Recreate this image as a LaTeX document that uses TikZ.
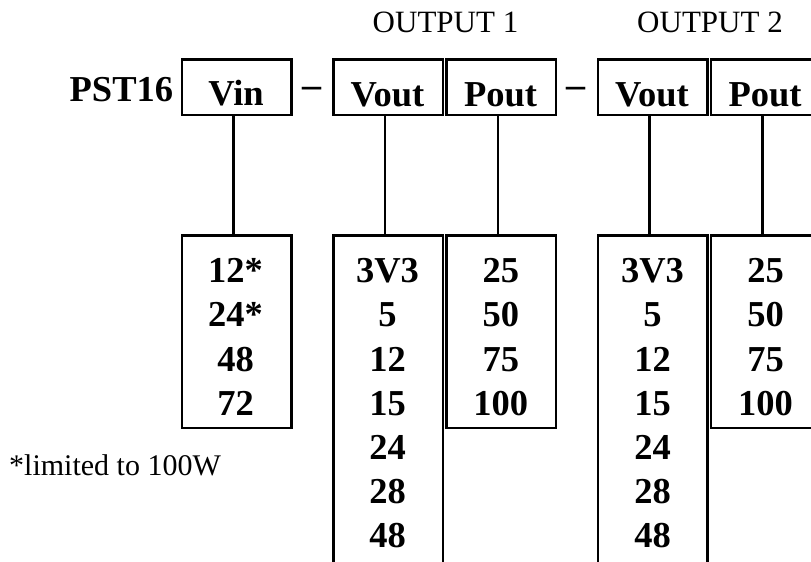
\documentclass[tikz,border=0pt]{standalone}
\usepackage{fontspec}
\setmainfont{Liberation Serif}
\begin{document}
\begin{tikzpicture}[x=1pt,y=-1pt,
  box/.style={draw, line width=2.4pt, inner sep=0pt, minimum width=109.5pt},
  topbox/.style={box, minimum height=55.2pt},
  shortlist/.style={box, minimum height=192.6pt},
  longlist/.style={box, minimum height=364.5pt},
  conn/.style={line width=2.4pt},
  lbl/.style={font=\fontsize{36.5}{40}\selectfont\bfseries, anchor=base, inner sep=0pt},
  num/.style={lbl},
  head/.style={font=\fontsize{31}{34}\selectfont, anchor=base, inner sep=0pt},
  note/.style={font=\fontsize{30}{33}\selectfont, anchor=base west, inner sep=0pt},
  sep/.style={font=\fontsize{38}{40}\selectfont\bfseries, anchor=base, inner sep=0pt}
]
\useasboundingbox (0,0) rectangle (811,562);
\clip (0,0) rectangle (811,562);

% top boxes
\node[topbox] (vin)   at (236.75,87.2) {};
\node[topbox] (vout1) at (388.25,87.2) {};
\node[topbox] (pout1) at (501.25,87.2) {};
\node[topbox] (vout2) at (652.75,87.2) {};
\node[topbox] (pout2) at (765.75,87.2) {};

% lower boxes
\node[shortlist] (vinl)   at (236.75,331.8) {};
\node[longlist]  (vout1l) at (388.25,417.75) {};
\node[shortlist] (pout1l) at (501.25,331.8) {};
\node[longlist]  (vout2l) at (652.75,417.75) {};
\node[shortlist] (pout2l) at (765.75,331.8) {};

% connectors
\foreach \a/\b in {vin/vinl, vout1/vout1l, pout1/pout1l, vout2/vout2l, pout2/pout2l}
  \draw[conn] ([xshift=-3.2pt]\a.south) -- ([xshift=-3.2pt]\b.north);

% labels
\node[lbl] (pst) at (121.4,101.7) {PST16};
\node[lbl] (tvin) at (236,105) {Vin};
\node[lbl] (tvout1) at (387.5,106.5) {Vout};
\node[lbl] (tpout1) at (500.5,106.5) {Pout};
\node[lbl] (tvout2) at (652,106.5) {Vout};
\node[lbl] (tpout2) at (765,106.5) {Pout};
\node[head] (o1) at (445.5,32.3) {OUTPUT 1};
\node[head] (o2) at (710,32.3) {OUTPUT 2};
\node[sep] (d1) at (312,97.2) {–};
\node[sep] (d2) at (576.2,97.2) {–};
\node[note] (fn) at (9,475) {*limited to 100W};

% values
\foreach \t [count=\i] in {12*,24*,48,72}
  \node[num] (vinn\i) at (235.5,{282.7+44.2*(\i-1)}) {\t};
\foreach \t [count=\i] in {3V3,5,12,15,24,28,48}
  \node[num] (vaa\i) at (387.5,{282.7+44.2*(\i-1)}) {\t};
\foreach \t [count=\i] in {25,50,75,100}
  \node[num] (paa\i) at (500.8,{282.7+44.2*(\i-1)}) {\t};
\foreach \t [count=\i] in {3V3,5,12,15,24,28,48}
  \node[num] (vbb\i) at (652.5,{282.7+44.2*(\i-1)}) {\t};
\foreach \t [count=\i] in {25,50,75,100}
  \node[num] (pbb\i) at (765.5,{282.7+44.2*(\i-1)}) {\t};
\end{tikzpicture}
\end{document}
